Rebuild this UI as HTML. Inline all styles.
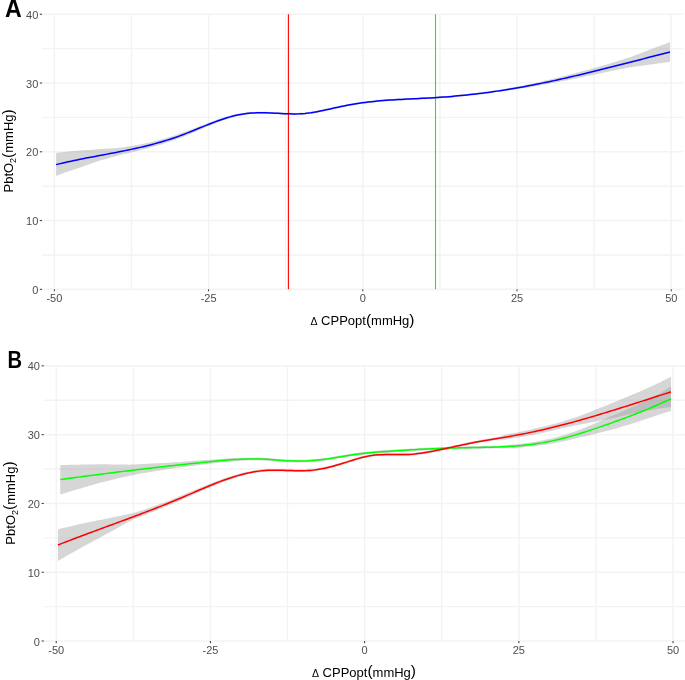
<!DOCTYPE html><html><head><meta charset="utf-8"><style>html,body{margin:0;padding:0;background:#fff;}svg{display:block;will-change:transform}text{font-family:"Liberation Sans",sans-serif}.tk{font-size:11px;fill:#4d4d4d}.ti{font-size:13px;fill:#000}.tx{font-size:13.3px}.lb{font-size:24px;font-weight:bold;fill:#000}</style></head><body>
<svg width="685" height="680" viewBox="0 0 685 680">
<line x1="131.48" y1="14.26" x2="131.48" y2="289.34" stroke="#f3f3f3" stroke-width="1.4"/>
<line x1="285.7" y1="14.26" x2="285.7" y2="289.34" stroke="#f3f3f3" stroke-width="1.4"/>
<line x1="439.92" y1="14.26" x2="439.92" y2="289.34" stroke="#f3f3f3" stroke-width="1.4"/>
<line x1="594.14" y1="14.26" x2="594.14" y2="289.34" stroke="#f3f3f3" stroke-width="1.4"/>
<line x1="42" y1="254.95" x2="683" y2="254.95" stroke="#f3f3f3" stroke-width="1.4"/>
<line x1="42" y1="186.18" x2="683" y2="186.18" stroke="#f3f3f3" stroke-width="1.4"/>
<line x1="42" y1="117.41" x2="683" y2="117.41" stroke="#f3f3f3" stroke-width="1.4"/>
<line x1="42" y1="48.64" x2="683" y2="48.64" stroke="#f3f3f3" stroke-width="1.4"/>
<line x1="54.37" y1="14.26" x2="54.37" y2="289.34" stroke="#f3f3f3" stroke-width="1.5"/>
<line x1="208.59" y1="14.26" x2="208.59" y2="289.34" stroke="#f3f3f3" stroke-width="1.5"/>
<line x1="362.81" y1="14.26" x2="362.81" y2="289.34" stroke="#f3f3f3" stroke-width="1.5"/>
<line x1="517.03" y1="14.26" x2="517.03" y2="289.34" stroke="#f3f3f3" stroke-width="1.5"/>
<line x1="671.25" y1="14.26" x2="671.25" y2="289.34" stroke="#f3f3f3" stroke-width="1.5"/>
<line x1="42" y1="289.34" x2="683" y2="289.34" stroke="#f3f3f3" stroke-width="1.5"/>
<line x1="42" y1="220.57" x2="683" y2="220.57" stroke="#f3f3f3" stroke-width="1.5"/>
<line x1="42" y1="151.8" x2="683" y2="151.8" stroke="#f3f3f3" stroke-width="1.5"/>
<line x1="42" y1="83.03" x2="683" y2="83.03" stroke="#f3f3f3" stroke-width="1.5"/>
<line x1="42" y1="14.26" x2="683" y2="14.26" stroke="#f3f3f3" stroke-width="1.5"/>
<polygon points="56.1,152.91 59.1,152.56 62.1,152.22 65.1,151.91 68.1,151.62 71.1,151.34 74.1,151.08 77.1,150.84 80,150.61 80.1,150.61 83.1,150.35 86.1,150.11 89.1,149.88 92.1,149.65 95.1,149.42 98.1,149.21 100,149.07 101.1,149 104.1,148.8 107.1,148.61 110.1,148.41 113.1,148.2 116.1,147.99 119.1,147.78 122,147.56 122.1,147.54 125.1,147.06 128.1,146.56 131.1,146.04 134.1,145.51 137.1,144.97 140.1,144.4 143.1,143.82 146.1,143.21 149.1,142.58 150,142.38 152.1,141.87 155.1,141.11 158.1,140.32 161.1,139.51 164.1,138.66 167.1,137.78 170.1,136.86 173.1,135.91 176.1,134.92 179.1,133.89 180,133.57 182.1,132.83 185.1,131.75 188.1,130.63 191.1,129.5 194.1,128.34 197.1,127.18 200.1,126.01 203.1,124.85 206.1,123.7 209.1,122.56 210,122.23 212.1,121.45 215.1,120.35 218.1,119.3 221.1,118.29 224.1,117.33 227.1,116.43 230.1,115.59 233.1,114.83 236.1,114.15 239.1,113.55 242.1,113.04 245.1,112.63 248.1,112.32 250,112.18 251.1,112.09 254.1,111.91 257.1,111.8 260.1,111.76 263.1,111.77 266.1,111.83 269.1,111.93 272.1,112.06 275.1,112.21 278.1,112.36 281.1,112.51 284.1,112.65 287.1,112.77 290.1,112.85 293.1,112.89 296.1,112.88 299.1,112.8 302.1,112.65 305.1,112.41 308.1,112.08 311.1,111.68 314.1,111.21 317.1,110.68 320.1,110.1 323.1,109.48 326.1,108.84 329.1,108.17 332.1,107.5 335.1,106.83 338.1,106.17 341.1,105.53 344.1,104.91 347.1,104.33 350.1,103.77 353.1,103.24 356.1,102.74 359.1,102.27 362.1,101.83 365.1,101.43 368.1,101.05 371.1,100.7 374.1,100.38 377.1,100.08 380.1,99.81 383.1,99.56 386.1,99.32 389.1,99.11 392.1,98.91 395.1,98.72 398.1,98.55 401.1,98.38 404.1,98.23 407.1,98.08 410.1,97.93 413.1,97.79 416.1,97.65 419.1,97.51 422.1,97.36 425.1,97.21 428.1,97.05 431.1,96.89 434.1,96.71 437.1,96.52 440.1,96.32 443.1,96.11 446.1,95.88 449.1,95.64 452.1,95.39 455.1,95.12 458.1,94.85 461.1,94.56 464.1,94.26 467.1,93.94 470.1,93.62 473.1,93.28 476.1,92.92 479.1,92.56 482.1,92.18 485.1,91.8 488.1,91.4 491.1,90.98 494.1,90.56 497.1,90.12 500,89.69 500.1,89.67 503.1,89.15 506.1,88.61 509.1,88.07 512.1,87.51 515.1,86.94 518.1,86.36 521.1,85.76 524.1,85.16 527.1,84.54 530,83.94 530.1,83.91 533.1,83.28 536.1,82.63 539.1,81.97 542.1,81.3 545.1,80.62 548.1,79.94 551.1,79.24 554.1,78.54 557.1,77.82 560,77.13 560.1,77.1 563.1,76.31 566.1,75.51 569.1,74.71 570,74.47 572.1,73.93 575.1,73.14 578.1,72.36 581.1,71.56 584.1,70.76 587.1,69.96 590.1,69.14 593.1,68.33 595,67.81 596.1,67.49 599.1,66.63 602.1,65.77 605.1,64.9 608.1,64.02 610,63.47 611.1,63.13 614.1,62.21 617.1,61.29 620.1,60.37 623.1,59.44 625,58.85 626.1,58.5 629.1,57.55 630,57.27 632.1,56.46 635.1,55.31 638.1,54.17 641.1,53.02 644.1,51.87 647.1,50.72 650,49.6 650.1,49.57 653.1,48.43 656.1,47.3 659.1,46.17 662.1,45.04 665.1,43.91 668.1,42.78 670,42.07 670,61.87 668.1,62.12 665.1,62.53 662.1,62.94 659.1,63.35 656.1,63.76 653.1,64.18 650.1,64.59 650,64.6 647.1,64.99 644.1,65.39 641.1,65.79 638.1,66.19 635.1,66.59 632.1,66.99 630,67.27 629.1,67.44 626.1,68.03 625,68.25 623.1,68.64 620.1,69.24 617.1,69.85 614.1,70.45 611.1,71.05 610,71.27 608.1,71.67 605.1,72.31 602.1,72.94 599.1,73.56 596.1,74.18 595,74.41 593.1,74.82 590.1,75.47 587.1,76.11 584.1,76.75 581.1,77.38 578.1,78.01 575.1,78.63 572.1,79.24 570,79.67 569.1,79.84 566.1,80.4 563.1,80.96 560.1,81.51 560,81.53 557.1,82.11 554.1,82.7 551.1,83.29 548.1,83.86 545.1,84.43 542.1,84.99 539.1,85.53 536.1,86.07 533.1,86.6 530.1,87.12 530,87.14 527.1,87.63 524.1,88.12 521.1,88.61 518.1,89.08 515.1,89.54 512.1,89.99 509.1,90.43 506.1,90.86 503.1,91.27 500.1,91.67 500,91.69 497.1,92.12 494.1,92.56 491.1,92.98 488.1,93.4 485.1,93.8 482.1,94.18 479.1,94.56 476.1,94.92 473.1,95.28 470.1,95.62 467.1,95.94 464.1,96.26 461.1,96.56 458.1,96.85 455.1,97.12 452.1,97.39 449.1,97.64 446.1,97.88 443.1,98.11 440.1,98.32 437.1,98.52 434.1,98.71 431.1,98.89 428.1,99.05 425.1,99.21 422.1,99.36 419.1,99.51 416.1,99.65 413.1,99.79 410.1,99.93 407.1,100.08 404.1,100.23 401.1,100.38 398.1,100.55 395.1,100.72 392.1,100.91 389.1,101.11 386.1,101.32 383.1,101.56 380.1,101.81 377.1,102.08 374.1,102.38 371.1,102.7 368.1,103.05 365.1,103.43 362.1,103.83 359.1,104.27 356.1,104.74 353.1,105.24 350.1,105.77 347.1,106.33 344.1,106.91 341.1,107.53 338.1,108.17 335.1,108.83 332.1,109.5 329.1,110.17 326.1,110.84 323.1,111.48 320.1,112.1 317.1,112.68 314.1,113.21 311.1,113.68 308.1,114.08 305.1,114.41 302.1,114.65 299.1,114.8 296.1,114.88 293.1,114.89 290.1,114.85 287.1,114.77 284.1,114.65 281.1,114.51 278.1,114.36 275.1,114.21 272.1,114.06 269.1,113.93 266.1,113.83 263.1,113.77 260.1,113.76 257.1,113.8 254.1,113.91 251.1,114.09 250,114.18 248.1,114.38 245.1,114.78 242.1,115.28 239.1,115.87 236.1,116.56 233.1,117.34 230.1,118.19 227.1,119.12 224.1,120.11 221.1,121.15 218.1,122.25 215.1,123.4 212.1,124.58 210,125.43 209.1,125.8 206.1,127.05 203.1,128.33 200.1,129.61 197.1,130.89 194.1,132.18 191.1,133.45 188.1,134.71 185.1,135.94 182.1,137.15 180,137.97 179.1,138.31 176.1,139.42 173.1,140.49 170.1,141.52 167.1,142.52 164.1,143.48 161.1,144.41 158.1,145.31 155.1,146.18 152.1,147.02 150,147.58 149.1,147.84 146.1,148.66 143.1,149.46 140.1,150.24 137.1,151 134.1,151.74 131.1,152.46 128.1,153.16 125.1,153.86 122.1,154.54 122,154.56 119.1,155.37 116.1,156.2 113.1,157.02 110.1,157.84 107.1,158.65 104.1,159.46 101.1,160.27 100,160.57 98.1,161.22 95.1,162.25 92.1,163.28 89.1,164.32 86.1,165.36 83.1,166.42 80.1,167.48 80,167.51 77.1,168.48 74.1,169.49 71.1,170.51 68.1,171.56 65.1,172.61 62.1,173.69 59.1,174.79 56.1,175.91" fill="#999" fill-opacity="0.4"/>
<line x1="288.4" y1="14.3" x2="288.4" y2="289.3" stroke="#ff0000" stroke-width="1.1"/>
<line x1="435.5" y1="14.3" x2="435.5" y2="289.3" stroke="#00ff00" stroke-width="1.1"/>
<polyline points="56.1,164.61 59.1,163.88 62.1,163.17 65.1,162.48 68.1,161.81 71.1,161.16 74.1,160.52 77.1,159.9 80.1,159.29 83.1,158.7 86.1,158.11 89.1,157.53 92.1,156.96 95.1,156.39 98.1,155.82 101.1,155.26 104.1,154.7 107.1,154.13 110.1,153.57 113.1,153 116.1,152.42 119.1,151.83 122.1,151.24 125.1,150.63 128.1,150.02 131.1,149.39 134.1,148.74 137.1,148.07 140.1,147.39 143.1,146.69 146.1,145.96 149.1,145.22 152.1,144.44 155.1,143.64 158.1,142.82 161.1,141.96 164.1,141.07 167.1,140.15 170.1,139.19 173.1,138.2 176.1,137.17 179.1,136.1 182.1,134.99 185.1,133.85 188.1,132.67 191.1,131.47 194.1,130.26 197.1,129.04 200.1,127.81 203.1,126.59 206.1,125.38 209.1,124.18 212.1,123.01 215.1,121.88 218.1,120.78 221.1,119.72 224.1,118.72 227.1,117.77 230.1,116.89 233.1,116.08 236.1,115.35 239.1,114.71 242.1,114.16 245.1,113.7 248.1,113.35 251.1,113.09 254.1,112.91 257.1,112.8 260.1,112.76 263.1,112.77 266.1,112.83 269.1,112.93 272.1,113.06 275.1,113.21 278.1,113.36 281.1,113.51 284.1,113.65 287.1,113.77 290.1,113.85 293.1,113.89 296.1,113.88 299.1,113.8 302.1,113.65 305.1,113.41 308.1,113.08 311.1,112.68 314.1,112.21 317.1,111.68 320.1,111.1 323.1,110.48 326.1,109.84 329.1,109.17 332.1,108.5 335.1,107.83 338.1,107.17 341.1,106.53 344.1,105.91 347.1,105.33 350.1,104.77 353.1,104.24 356.1,103.74 359.1,103.27 362.1,102.83 365.1,102.43 368.1,102.05 371.1,101.7 374.1,101.38 377.1,101.08 380.1,100.81 383.1,100.56 386.1,100.32 389.1,100.11 392.1,99.91 395.1,99.72 398.1,99.55 401.1,99.38 404.1,99.23 407.1,99.08 410.1,98.93 413.1,98.79 416.1,98.65 419.1,98.51 422.1,98.36 425.1,98.21 428.1,98.05 431.1,97.89 434.1,97.71 437.1,97.52 440.1,97.32 443.1,97.11 446.1,96.88 449.1,96.64 452.1,96.39 455.1,96.12 458.1,95.85 461.1,95.56 464.1,95.26 467.1,94.94 470.1,94.62 473.1,94.28 476.1,93.92 479.1,93.56 482.1,93.18 485.1,92.8 488.1,92.4 491.1,91.98 494.1,91.56 497.1,91.12 500.1,90.67 503.1,90.21 506.1,89.73 509.1,89.25 512.1,88.75 515.1,88.24 518.1,87.72 521.1,87.19 524.1,86.64 527.1,86.08 530.1,85.52 533.1,84.94 536.1,84.35 539.1,83.75 542.1,83.14 545.1,82.53 548.1,81.9 551.1,81.26 554.1,80.62 557.1,79.97 560.1,79.3 563.1,78.64 566.1,77.96 569.1,77.28 572.1,76.58 575.1,75.89 578.1,75.18 581.1,74.47 584.1,73.76 587.1,73.03 590.1,72.31 593.1,71.58 596.1,70.84 599.1,70.1 602.1,69.35 605.1,68.6 608.1,67.85 611.1,67.09 614.1,66.33 617.1,65.57 620.1,64.81 623.1,64.04 626.1,63.27 629.1,62.5 632.1,61.73 635.1,60.95 638.1,60.18 641.1,59.4 644.1,58.63 647.1,57.85 650.1,57.08 653.1,56.3 656.1,55.53 659.1,54.76 662.1,53.99 665.1,53.22 668.1,52.45 670,51.97" fill="none" stroke="#0000ff" stroke-width="1.5" stroke-linejoin="round"/>
<line x1="39.8" y1="289.34" x2="42" y2="289.34" stroke="#333" stroke-width="1"/>
<text x="38.3" y="293.84" text-anchor="end" class="tk">0</text>
<line x1="39.8" y1="220.57" x2="42" y2="220.57" stroke="#333" stroke-width="1"/>
<text x="38.3" y="225.07" text-anchor="end" class="tk">10</text>
<line x1="39.8" y1="151.8" x2="42" y2="151.8" stroke="#333" stroke-width="1"/>
<text x="38.3" y="156.3" text-anchor="end" class="tk">20</text>
<line x1="39.8" y1="83.03" x2="42" y2="83.03" stroke="#333" stroke-width="1"/>
<text x="38.3" y="87.53" text-anchor="end" class="tk">30</text>
<line x1="39.8" y1="14.26" x2="42" y2="14.26" stroke="#333" stroke-width="1"/>
<text x="38.3" y="18.76" text-anchor="end" class="tk">40</text>
<line x1="54.37" y1="289.34" x2="54.37" y2="291.3" stroke="#333" stroke-width="1"/>
<text x="54.37" y="302" text-anchor="middle" class="tk">-50</text>
<line x1="208.59" y1="289.34" x2="208.59" y2="291.3" stroke="#333" stroke-width="1"/>
<text x="208.59" y="302" text-anchor="middle" class="tk">-25</text>
<line x1="362.81" y1="289.34" x2="362.81" y2="291.3" stroke="#333" stroke-width="1"/>
<text x="362.81" y="302" text-anchor="middle" class="tk">0</text>
<line x1="517.03" y1="289.34" x2="517.03" y2="291.3" stroke="#333" stroke-width="1"/>
<text x="517.03" y="302" text-anchor="middle" class="tk">25</text>
<line x1="671.25" y1="289.34" x2="671.25" y2="291.3" stroke="#333" stroke-width="1"/>
<text x="671.25" y="302" text-anchor="middle" class="tk">50</text>
<line x1="133.32" y1="365.88" x2="133.32" y2="641" stroke="#f3f3f3" stroke-width="1.4"/>
<line x1="287.53" y1="365.88" x2="287.53" y2="641" stroke="#f3f3f3" stroke-width="1.4"/>
<line x1="441.75" y1="365.88" x2="441.75" y2="641" stroke="#f3f3f3" stroke-width="1.4"/>
<line x1="595.95" y1="365.88" x2="595.95" y2="641" stroke="#f3f3f3" stroke-width="1.4"/>
<line x1="44" y1="606.61" x2="685" y2="606.61" stroke="#f3f3f3" stroke-width="1.4"/>
<line x1="44" y1="537.83" x2="685" y2="537.83" stroke="#f3f3f3" stroke-width="1.4"/>
<line x1="44" y1="469.05" x2="685" y2="469.05" stroke="#f3f3f3" stroke-width="1.4"/>
<line x1="44" y1="400.27" x2="685" y2="400.27" stroke="#f3f3f3" stroke-width="1.4"/>
<line x1="56.22" y1="365.88" x2="56.22" y2="641" stroke="#f3f3f3" stroke-width="1.5"/>
<line x1="210.43" y1="365.88" x2="210.43" y2="641" stroke="#f3f3f3" stroke-width="1.5"/>
<line x1="364.64" y1="365.88" x2="364.64" y2="641" stroke="#f3f3f3" stroke-width="1.5"/>
<line x1="518.85" y1="365.88" x2="518.85" y2="641" stroke="#f3f3f3" stroke-width="1.5"/>
<line x1="673.06" y1="365.88" x2="673.06" y2="641" stroke="#f3f3f3" stroke-width="1.5"/>
<line x1="44" y1="641" x2="685" y2="641" stroke="#f3f3f3" stroke-width="1.5"/>
<line x1="44" y1="572.22" x2="685" y2="572.22" stroke="#f3f3f3" stroke-width="1.5"/>
<line x1="44" y1="503.44" x2="685" y2="503.44" stroke="#f3f3f3" stroke-width="1.5"/>
<line x1="44" y1="434.66" x2="685" y2="434.66" stroke="#f3f3f3" stroke-width="1.5"/>
<line x1="44" y1="365.88" x2="685" y2="365.88" stroke="#f3f3f3" stroke-width="1.5"/>
<polygon points="57.9,529.33 60.9,528.59 63.9,527.87 66.9,527.15 69.9,526.44 72.9,525.74 75.9,525.05 78.9,524.36 80,524.11 81.9,523.71 84.9,523.08 87.9,522.46 90.9,521.83 93.9,521.22 96.9,520.6 99.9,519.99 102.9,519.38 105.9,518.77 108.9,518.16 111.9,517.55 114.9,516.94 117.9,516.33 120.9,515.71 123.9,515.1 126.9,514.48 129.9,513.86 132.9,513.23 133,513.21 135.9,512.29 138.9,511.34 141.9,510.38 144.9,509.42 147.9,508.45 150,507.76 150.9,507.43 153.9,506.33 156.9,505.21 159.9,504.09 162.9,502.96 165.9,501.81 168.9,500.66 170,500.23 171.9,499.48 174.9,498.27 177.9,497.06 180.9,495.83 183.9,494.59 186.9,493.33 189.9,492.08 192.9,490.82 195.9,489.56 198.9,488.31 201.9,487.06 204.9,485.83 207.9,484.62 210,483.78 210.9,483.42 213.9,482.25 216.9,481.1 219.9,479.99 222.9,478.91 225.9,477.87 228.9,476.87 231.9,475.91 234.9,475.01 237.9,474.16 240.9,473.36 243.9,472.62 246.9,471.95 249.9,471.34 250,471.32 252.9,470.76 255.9,470.26 258.9,469.83 261.9,469.48 264.9,469.21 267.9,469.03 270.9,468.92 273.9,468.88 276.9,468.89 279.9,468.94 282.9,469.01 285.9,469.11 288.9,469.21 291.9,469.3 294.9,469.38 297.9,469.43 300.9,469.44 303.9,469.39 306.9,469.28 309.9,469.1 312.9,468.83 315.9,468.47 318.9,468.01 321.9,467.48 324.9,466.86 327.9,466.18 330.9,465.43 333.9,464.63 336.9,463.79 339.9,462.9 342.9,461.99 345.9,461.05 348.9,460.09 351.9,459.15 354.9,458.22 357.9,457.33 360.9,456.5 363.9,455.74 366.9,455.07 369.9,454.51 372.9,454.07 375.9,453.74 378.9,453.51 381.9,453.37 384.9,453.28 387.9,453.25 390.9,453.25 393.9,453.27 396.9,453.29 399.9,453.3 402.9,453.28 405.9,453.22 408.9,453.1 411.9,452.91 414.9,452.64 417.9,452.3 420.9,451.91 423.9,451.46 426.9,450.96 429.9,450.43 432.9,449.86 435.9,449.27 438.9,448.66 441.9,448.03 444.9,447.39 447.9,446.75 450.9,446.09 453.9,445.44 456.9,444.78 459.9,444.13 462.9,443.48 465.9,442.85 468.9,442.22 471.9,441.61 474.9,441.02 477.9,440.46 480.9,439.91 483.9,439.37 486.9,438.85 489.9,438.35 492.9,437.85 495.9,437.35 498.9,436.86 500,436.68 501.9,435.91 504.9,434.69 505,434.65 507.9,434.13 510.9,433.58 513.9,433.02 516.9,432.44 519.9,431.85 522.9,431.24 525.9,430.61 528.9,429.97 531.9,429.3 534.9,428.62 537.9,427.93 540.9,427.22 543.9,426.49 546.9,425.75 549.9,424.99 552.9,424.22 555.9,423.44 558.9,422.65 560,422.35 561.9,421.76 564.9,420.81 567.9,419.85 570.9,418.87 573.9,417.89 576.9,416.9 579.9,415.89 580,415.86 582.9,414.74 585.9,413.57 588.9,412.39 591.9,411.21 594.9,410.01 597.9,408.81 600.9,407.6 603.9,406.38 606.9,405.16 609.9,403.93 611,403.47 612.9,402.7 615.9,401.48 618.9,400.26 621.9,399.02 624.9,397.79 627.9,396.55 630.9,395.31 633.9,394.06 636.9,392.81 639.9,391.56 640,391.52 642.9,390.2 645.9,388.83 648.9,387.46 651.9,386.08 654.9,384.71 657.9,383.34 660,382.38 660.9,381.91 663.9,380.35 666.9,378.79 669.9,377.22 671,376.65 671,407.05 669.9,407.18 666.9,407.55 663.9,407.91 660.9,408.27 660,408.38 657.9,408.77 654.9,409.34 651.9,409.9 648.9,410.46 645.9,411.02 642.9,411.58 640,412.12 639.9,412.14 636.9,412.81 633.9,413.48 630.9,414.15 627.9,414.81 624.9,415.47 621.9,416.13 618.9,416.78 615.9,417.43 612.9,418.07 611,418.47 609.9,418.7 606.9,419.31 603.9,419.92 600.9,420.51 597.9,421.1 594.9,421.69 591.9,422.26 588.9,422.83 585.9,423.39 582.9,423.94 580,424.46 579.9,424.48 576.9,425.16 573.9,425.82 570.9,426.47 567.9,427.12 564.9,427.75 561.9,428.36 560,428.75 558.9,429.02 555.9,429.74 552.9,430.44 549.9,431.14 546.9,431.82 543.9,432.48 540.9,433.13 537.9,433.77 534.9,434.38 531.9,434.99 528.9,435.57 525.9,436.14 522.9,436.7 519.9,437.23 516.9,437.75 513.9,438.25 510.9,438.73 507.9,439.2 505,439.65 504.9,439.64 501.9,439.42 500,439.28 498.9,439.46 495.9,439.95 492.9,440.45 489.9,440.95 486.9,441.45 483.9,441.97 480.9,442.51 477.9,443.06 474.9,443.62 471.9,444.21 468.9,444.82 465.9,445.45 462.9,446.08 459.9,446.73 456.9,447.38 453.9,448.04 450.9,448.69 447.9,449.35 444.9,449.99 441.9,450.63 438.9,451.26 435.9,451.87 432.9,452.46 429.9,453.03 426.9,453.56 423.9,454.06 420.9,454.51 417.9,454.9 414.9,455.24 411.9,455.51 408.9,455.7 405.9,455.82 402.9,455.88 399.9,455.9 396.9,455.89 393.9,455.87 390.9,455.85 387.9,455.85 384.9,455.88 381.9,455.97 378.9,456.11 375.9,456.34 372.9,456.67 369.9,457.11 366.9,457.67 363.9,458.34 360.9,459.1 357.9,459.93 354.9,460.82 351.9,461.75 348.9,462.69 345.9,463.65 342.9,464.59 339.9,465.5 336.9,466.39 333.9,467.23 330.9,468.03 327.9,468.78 324.9,469.46 321.9,470.08 318.9,470.61 315.9,471.07 312.9,471.43 309.9,471.7 306.9,471.88 303.9,471.99 300.9,472.04 297.9,472.03 294.9,471.98 291.9,471.9 288.9,471.81 285.9,471.71 282.9,471.61 279.9,471.54 276.9,471.49 273.9,471.48 270.9,471.52 267.9,471.63 264.9,471.81 261.9,472.08 258.9,472.43 255.9,472.86 252.9,473.36 250,473.92 249.9,473.94 246.9,474.62 243.9,475.37 240.9,476.19 237.9,477.06 234.9,477.99 231.9,478.97 228.9,480 225.9,481.07 222.9,482.19 219.9,483.34 216.9,484.53 213.9,485.75 210.9,487 210,487.38 207.9,488.27 204.9,489.56 201.9,490.86 198.9,492.18 195.9,493.51 192.9,494.84 189.9,496.18 186.9,497.51 183.9,498.84 180.9,500.16 177.9,501.46 174.9,502.75 171.9,504.03 170,504.83 168.9,505.29 165.9,506.54 162.9,507.77 159.9,508.99 156.9,510.21 153.9,511.41 150.9,512.6 150,512.96 147.9,513.78 144.9,514.95 141.9,516.11 138.9,517.26 135.9,518.41 133,519.51 132.9,519.56 129.9,521.21 126.9,522.85 123.9,524.49 120.9,526.12 117.9,527.75 114.9,529.38 111.9,531.01 108.9,532.64 105.9,534.27 102.9,535.9 99.9,537.53 96.9,539.16 93.9,540.79 90.9,542.43 87.9,544.07 84.9,545.72 81.9,547.37 80,548.41 78.9,549.03 75.9,550.71 72.9,552.39 69.9,554.08 66.9,555.78 63.9,557.49 60.9,559.2 57.9,560.93" fill="#999" fill-opacity="0.4"/>
<polygon points="60.3,465.07 63.3,464.99 66.3,464.93 69.3,464.86 72.3,464.79 75.3,464.73 78.3,464.67 81.3,464.61 84.3,464.55 87.3,464.5 90.3,464.45 93.3,464.4 96.3,464.35 99.3,464.3 100,464.29 102.3,464.31 105.3,464.34 108.3,464.37 111.3,464.4 114.3,464.44 117.3,464.47 120.3,464.51 123.3,464.55 126.3,464.6 129.3,464.64 130,464.66 132.3,464.53 135.3,464.38 138.3,464.22 141.3,464.07 144.3,463.92 147.3,463.77 150.3,463.62 153.3,463.48 156.3,463.34 159.3,463.2 162.3,463.06 165.3,462.92 168.3,462.79 170,462.72 171.3,462.61 174.3,462.37 177.3,462.13 180.3,461.9 183.3,461.66 186.3,461.43 189.3,461.2 192.3,460.97 195.3,460.75 198.3,460.53 201.3,460.31 204.3,460.09 207.3,459.87 210,459.68 210.3,459.66 213.3,459.41 216.3,459.18 219.3,458.95 222.3,458.74 225.3,458.54 228.3,458.36 231.3,458.19 234.3,458.05 237.3,457.92 240.3,457.83 243.3,457.75 246.3,457.71 249.3,457.69 250,457.7 252.3,457.67 255.3,457.67 258.3,457.7 261.3,457.78 264.3,457.89 267.3,458.05 270.3,458.24 273.3,458.45 276.3,458.68 279.3,458.91 282.3,459.14 285.3,459.35 288.3,459.53 291.3,459.68 294.3,459.78 297.3,459.82 300.3,459.82 303.3,459.76 306.3,459.66 309.3,459.51 312.3,459.31 315.3,459.06 318.3,458.77 321.3,458.44 324.3,458.06 327.3,457.64 330.3,457.19 333.3,456.7 336.3,456.2 339.3,455.69 342.3,455.18 345.3,454.67 348.3,454.17 351.3,453.69 354.3,453.25 357.3,452.84 360.3,452.46 363.3,452.12 366.3,451.8 369.3,451.51 372.3,451.24 375.3,451 378.3,450.76 381.3,450.54 384.3,450.32 387.3,450.11 390.3,449.91 393.3,449.7 396.3,449.5 399.3,449.31 402.3,449.12 405.3,448.93 408.3,448.75 411.3,448.57 414.3,448.4 417.3,448.23 420.3,448.07 423.3,447.92 426.3,447.77 429.3,447.62 432.3,447.48 435.3,447.35 438.3,447.22 441.3,447.1 444.3,446.99 447.3,446.88 450.3,446.79 453.3,446.69 456.3,446.61 459.3,446.53 462.3,446.46 465.3,446.4 468.3,446.34 471.3,446.29 474.3,446.23 477.3,446.18 480.3,446.12 483.3,446.06 486.3,445.99 489.3,445.92 492.3,445.83 495.3,445.74 498.3,445.63 500,445.56 501.3,445.48 504.3,445.27 507.3,445.05 510.3,444.8 513.3,444.54 516.3,444.25 519.3,443.93 522.3,443.59 525.3,443.22 528.3,442.82 530,442.58 531.3,442.38 534.3,441.9 537.3,441.38 540.3,440.82 543.3,440.23 546.3,439.59 549.3,438.91 552.3,438.2 555.3,437.44 558.3,436.65 560,436.19 561.3,435.81 564.3,434.91 567.3,433.98 570.3,433.02 573.3,432.03 576.3,431.01 579.3,429.97 580,429.72 582.3,428.79 585.3,427.55 588.3,426.29 591.3,425.01 594.3,423.72 597.3,422.41 600.3,421.08 603.3,419.75 606.3,418.41 609.3,417.05 611,416.28 612.3,415.73 615.3,414.45 618.3,413.16 621.3,411.85 624.3,410.54 627.3,409.21 630.3,407.87 633.3,406.52 636.3,405.14 639.3,403.75 640,403.42 642.3,402.3 645.3,400.82 648.3,399.32 651.3,397.79 654.3,396.25 657.3,394.69 660,393.27 660.3,393.1 663.3,391.36 666.3,389.6 669.3,387.84 671,386.84 671,410.84 669.3,411.38 666.3,412.32 663.3,413.26 660.3,414.18 660,414.27 657.3,415.23 654.3,416.28 651.3,417.31 648.3,418.33 645.3,419.32 642.3,420.29 640,421.02 639.3,421.25 636.3,422.23 633.3,423.19 630.3,424.13 627.3,425.06 624.3,425.97 621.3,426.87 618.3,427.76 615.3,428.64 612.3,429.51 611,429.88 609.3,430.33 606.3,431.1 603.3,431.86 600.3,432.61 597.3,433.36 594.3,434.08 591.3,434.8 588.3,435.49 585.3,436.17 582.3,436.83 580,437.32 579.3,437.51 576.3,438.28 573.3,439.02 570.3,439.74 567.3,440.43 564.3,441.1 561.3,441.73 560,441.99 558.3,442.35 555.3,442.96 552.3,443.53 549.3,444.07 546.3,444.57 543.3,445.02 540.3,445.44 537.3,445.82 534.3,446.16 531.3,446.46 530,446.58 528.3,446.74 525.3,447 522.3,447.23 519.3,447.43 516.3,447.61 513.3,447.76 510.3,447.88 507.3,447.99 504.3,448.07 501.3,448.14 500,448.16 498.3,448.23 495.3,448.34 492.3,448.43 489.3,448.52 486.3,448.59 483.3,448.66 480.3,448.72 477.3,448.78 474.3,448.83 471.3,448.89 468.3,448.94 465.3,449 462.3,449.06 459.3,449.13 456.3,449.21 453.3,449.29 450.3,449.39 447.3,449.48 444.3,449.59 441.3,449.7 438.3,449.82 435.3,449.95 432.3,450.08 429.3,450.22 426.3,450.37 423.3,450.52 420.3,450.67 417.3,450.83 414.3,451 411.3,451.17 408.3,451.35 405.3,451.53 402.3,451.72 399.3,451.91 396.3,452.1 393.3,452.3 390.3,452.51 387.3,452.71 384.3,452.92 381.3,453.14 378.3,453.36 375.3,453.6 372.3,453.84 369.3,454.11 366.3,454.4 363.3,454.72 360.3,455.06 357.3,455.44 354.3,455.85 351.3,456.29 348.3,456.77 345.3,457.27 342.3,457.78 339.3,458.29 336.3,458.8 333.3,459.3 330.3,459.79 327.3,460.24 324.3,460.66 321.3,461.04 318.3,461.37 315.3,461.66 312.3,461.91 309.3,462.11 306.3,462.26 303.3,462.36 300.3,462.42 297.3,462.42 294.3,462.38 291.3,462.28 288.3,462.13 285.3,461.95 282.3,461.74 279.3,461.51 276.3,461.28 273.3,461.05 270.3,460.84 267.3,460.65 264.3,460.49 261.3,460.38 258.3,460.3 255.3,460.27 252.3,460.27 250,460.3 249.3,460.32 246.3,460.44 243.3,460.59 240.3,460.76 237.3,460.97 234.3,461.2 231.3,461.45 228.3,461.72 225.3,462.01 222.3,462.31 219.3,462.63 216.3,462.96 213.3,463.3 210.3,463.65 210,463.68 207.3,464.01 204.3,464.39 201.3,464.76 198.3,465.14 195.3,465.52 192.3,465.9 189.3,466.29 186.3,466.67 183.3,467.06 180.3,467.45 177.3,467.85 174.3,468.24 171.3,468.64 170,468.82 168.3,469.09 165.3,469.59 162.3,470.08 159.3,470.58 156.3,471.08 153.3,471.58 150.3,472.09 147.3,472.59 144.3,473.1 141.3,473.61 138.3,474.12 135.3,474.64 132.3,475.16 130,475.56 129.3,475.72 126.3,476.42 123.3,477.13 120.3,477.84 117.3,478.55 114.3,479.26 111.3,479.98 108.3,480.7 105.3,481.41 102.3,482.14 100,482.69 99.3,482.9 96.3,483.77 93.3,484.65 90.3,485.53 87.3,486.42 84.3,487.3 81.3,488.19 78.3,489.08 75.3,489.97 72.3,490.87 69.3,491.76 66.3,492.66 63.3,493.56 60.3,494.47" fill="#999" fill-opacity="0.4"/>
<polyline points="60.3,479.57 63.3,479.15 66.3,478.75 69.3,478.34 72.3,477.93 75.3,477.53 78.3,477.13 81.3,476.73 84.3,476.33 87.3,475.94 90.3,475.55 93.3,475.16 96.3,474.77 99.3,474.38 102.3,474 105.3,473.62 108.3,473.24 111.3,472.86 114.3,472.48 117.3,472.11 120.3,471.74 123.3,471.37 126.3,471 129.3,470.64 132.3,470.28 135.3,469.92 138.3,469.56 141.3,469.2 144.3,468.85 147.3,468.5 150.3,468.15 153.3,467.8 156.3,467.46 159.3,467.12 162.3,466.78 165.3,466.44 168.3,466.11 171.3,465.77 174.3,465.44 177.3,465.11 180.3,464.79 183.3,464.46 186.3,464.14 189.3,463.82 192.3,463.5 195.3,463.19 198.3,462.88 201.3,462.57 204.3,462.26 207.3,461.95 210.3,461.65 213.3,461.36 216.3,461.07 219.3,460.79 222.3,460.53 225.3,460.27 228.3,460.04 231.3,459.82 234.3,459.62 237.3,459.45 240.3,459.3 243.3,459.17 246.3,459.07 249.3,459 252.3,458.97 255.3,458.97 258.3,459 261.3,459.08 264.3,459.19 267.3,459.35 270.3,459.54 273.3,459.75 276.3,459.98 279.3,460.21 282.3,460.44 285.3,460.65 288.3,460.83 291.3,460.98 294.3,461.08 297.3,461.12 300.3,461.12 303.3,461.06 306.3,460.96 309.3,460.81 312.3,460.61 315.3,460.36 318.3,460.07 321.3,459.74 324.3,459.36 327.3,458.94 330.3,458.49 333.3,458 336.3,457.5 339.3,456.99 342.3,456.48 345.3,455.97 348.3,455.47 351.3,454.99 354.3,454.55 357.3,454.14 360.3,453.76 363.3,453.42 366.3,453.1 369.3,452.81 372.3,452.54 375.3,452.3 378.3,452.06 381.3,451.84 384.3,451.62 387.3,451.41 390.3,451.21 393.3,451 396.3,450.8 399.3,450.61 402.3,450.42 405.3,450.23 408.3,450.05 411.3,449.87 414.3,449.7 417.3,449.53 420.3,449.37 423.3,449.22 426.3,449.07 429.3,448.92 432.3,448.78 435.3,448.65 438.3,448.52 441.3,448.4 444.3,448.29 447.3,448.18 450.3,448.09 453.3,447.99 456.3,447.91 459.3,447.83 462.3,447.76 465.3,447.7 468.3,447.64 471.3,447.59 474.3,447.53 477.3,447.48 480.3,447.42 483.3,447.36 486.3,447.29 489.3,447.22 492.3,447.13 495.3,447.04 498.3,446.93 501.3,446.81 504.3,446.67 507.3,446.52 510.3,446.34 513.3,446.15 516.3,445.93 519.3,445.68 522.3,445.41 525.3,445.11 528.3,444.78 531.3,444.42 534.3,444.03 537.3,443.6 540.3,443.13 543.3,442.62 546.3,442.08 549.3,441.49 552.3,440.87 555.3,440.2 558.3,439.5 561.3,438.77 564.3,438 567.3,437.21 570.3,436.38 573.3,435.52 576.3,434.64 579.3,433.74 582.3,432.81 585.3,431.86 588.3,430.89 591.3,429.9 594.3,428.9 597.3,427.88 600.3,426.85 603.3,425.81 606.3,424.75 609.3,423.69 612.3,422.62 615.3,421.54 618.3,420.46 621.3,419.36 624.3,418.26 627.3,417.14 630.3,416 633.3,414.85 636.3,413.69 639.3,412.5 642.3,411.3 645.3,410.07 648.3,408.82 651.3,407.55 654.3,406.27 657.3,404.96 660.3,403.64 663.3,402.31 666.3,400.96 669.3,399.61 671,398.84" fill="none" stroke="#00ff00" stroke-width="1.5" stroke-linejoin="round"/>
<polyline points="57.9,545.03 60.9,543.85 63.9,542.67 66.9,541.51 69.9,540.35 72.9,539.2 75.9,538.06 78.9,536.93 81.9,535.8 84.9,534.68 87.9,533.56 90.9,532.44 93.9,531.33 96.9,530.23 99.9,529.12 102.9,528.02 105.9,526.91 108.9,525.81 111.9,524.71 114.9,523.61 117.9,522.5 120.9,521.4 123.9,520.29 126.9,519.18 129.9,518.07 132.9,516.95 135.9,515.82 138.9,514.7 141.9,513.56 144.9,512.42 147.9,511.27 150.9,510.11 153.9,508.95 156.9,507.78 159.9,506.59 162.9,505.4 165.9,504.19 168.9,502.98 171.9,501.75 174.9,500.51 177.9,499.26 180.9,497.99 183.9,496.71 186.9,495.42 189.9,494.13 192.9,492.83 195.9,491.54 198.9,490.24 201.9,488.96 204.9,487.69 207.9,486.44 210.9,485.21 213.9,484 216.9,482.82 219.9,481.67 222.9,480.55 225.9,479.47 228.9,478.43 231.9,477.44 234.9,476.5 237.9,475.61 240.9,474.77 243.9,474 246.9,473.29 249.9,472.64 252.9,472.06 255.9,471.56 258.9,471.13 261.9,470.78 264.9,470.51 267.9,470.33 270.9,470.22 273.9,470.18 276.9,470.19 279.9,470.24 282.9,470.31 285.9,470.41 288.9,470.51 291.9,470.6 294.9,470.68 297.9,470.73 300.9,470.74 303.9,470.69 306.9,470.58 309.9,470.4 312.9,470.13 315.9,469.77 318.9,469.31 321.9,468.78 324.9,468.16 327.9,467.48 330.9,466.73 333.9,465.93 336.9,465.09 339.9,464.2 342.9,463.29 345.9,462.35 348.9,461.39 351.9,460.45 354.9,459.52 357.9,458.63 360.9,457.8 363.9,457.04 366.9,456.37 369.9,455.81 372.9,455.37 375.9,455.04 378.9,454.81 381.9,454.67 384.9,454.58 387.9,454.55 390.9,454.55 393.9,454.57 396.9,454.59 399.9,454.6 402.9,454.58 405.9,454.52 408.9,454.4 411.9,454.21 414.9,453.94 417.9,453.6 420.9,453.21 423.9,452.76 426.9,452.26 429.9,451.73 432.9,451.16 435.9,450.57 438.9,449.96 441.9,449.33 444.9,448.69 447.9,448.05 450.9,447.39 453.9,446.74 456.9,446.08 459.9,445.43 462.9,444.78 465.9,444.15 468.9,443.52 471.9,442.91 474.9,442.32 477.9,441.76 480.9,441.21 483.9,440.67 486.9,440.15 489.9,439.65 492.9,439.15 495.9,438.65 498.9,438.16 501.9,437.67 504.9,437.17 507.9,436.67 510.9,436.16 513.9,435.63 516.9,435.09 519.9,434.54 522.9,433.97 525.9,433.38 528.9,432.77 531.9,432.14 534.9,431.5 537.9,430.85 540.9,430.17 543.9,429.49 546.9,428.78 549.9,428.07 552.9,427.33 555.9,426.59 558.9,425.83 561.9,425.06 564.9,424.28 567.9,423.48 570.9,422.67 573.9,421.86 576.9,421.03 579.9,420.19 582.9,419.34 585.9,418.48 588.9,417.61 591.9,416.73 594.9,415.85 597.9,414.96 600.9,414.06 603.9,413.15 606.9,412.23 609.9,411.31 612.9,410.39 615.9,409.45 618.9,408.52 621.9,407.58 624.9,406.63 627.9,405.68 630.9,404.73 633.9,403.77 636.9,402.81 639.9,401.85 642.9,400.89 645.9,399.92 648.9,398.96 651.9,397.99 654.9,397.02 657.9,396.06 660.9,395.09 663.9,394.13 666.9,393.17 669.9,392.2 671,391.85" fill="none" stroke="#ff0000" stroke-width="1.5" stroke-linejoin="round"/>
<line x1="41.6" y1="641" x2="43.8" y2="641" stroke="#333" stroke-width="1"/>
<text x="39.9" y="645.5" text-anchor="end" class="tk">0</text>
<line x1="41.6" y1="572.22" x2="43.8" y2="572.22" stroke="#333" stroke-width="1"/>
<text x="39.9" y="576.72" text-anchor="end" class="tk">10</text>
<line x1="41.6" y1="503.44" x2="43.8" y2="503.44" stroke="#333" stroke-width="1"/>
<text x="39.9" y="507.94" text-anchor="end" class="tk">20</text>
<line x1="41.6" y1="434.66" x2="43.8" y2="434.66" stroke="#333" stroke-width="1"/>
<text x="39.9" y="439.16" text-anchor="end" class="tk">30</text>
<line x1="41.6" y1="365.88" x2="43.8" y2="365.88" stroke="#333" stroke-width="1"/>
<text x="39.9" y="370.38" text-anchor="end" class="tk">40</text>
<line x1="56.22" y1="641" x2="56.22" y2="643.2" stroke="#333" stroke-width="1"/>
<text x="56.22" y="654" text-anchor="middle" class="tk">-50</text>
<line x1="210.43" y1="641" x2="210.43" y2="643.2" stroke="#333" stroke-width="1"/>
<text x="210.43" y="654" text-anchor="middle" class="tk">-25</text>
<line x1="364.64" y1="641" x2="364.64" y2="643.2" stroke="#333" stroke-width="1"/>
<text x="364.64" y="654" text-anchor="middle" class="tk">0</text>
<line x1="518.85" y1="641" x2="518.85" y2="643.2" stroke="#333" stroke-width="1"/>
<text x="518.85" y="654" text-anchor="middle" class="tk">25</text>
<line x1="673.06" y1="641" x2="673.06" y2="643.2" stroke="#333" stroke-width="1"/>
<text x="673.06" y="654" text-anchor="middle" class="tk">50</text>
<text x="362.5" y="325" class="ti" text-anchor="middle"><tspan font-size="10.5">&#916;</tspan> CPPopt<tspan font-size="15.5" font-weight="300" dy="-0.3">(</tspan><tspan dy="0.3">mmHg</tspan><tspan font-size="15.5" font-weight="300" dy="-0.3">)</tspan></text>
<text x="364" y="676.7" class="ti" text-anchor="middle"><tspan font-size="10.5">&#916;</tspan> CPPopt<tspan font-size="15.5" font-weight="300" dy="-0.3">(</tspan><tspan dy="0.3">mmHg</tspan><tspan font-size="15.5" font-weight="300" dy="-0.3">)</tspan></text>
<text transform="translate(13.1,150.9) rotate(-90)" class="ti" text-anchor="middle">PbtO<tspan font-size="9" dy="3">2</tspan><tspan font-size="15.5" dy="-3.3">(</tspan><tspan dy="0.3">mmHg</tspan><tspan font-size="15.5" dy="-0.3">)</tspan></text>
<text transform="translate(14.7,503) rotate(-90)" class="ti" text-anchor="middle">PbtO<tspan font-size="9" dy="3">2</tspan><tspan font-size="15.5" dy="-3.3">(</tspan><tspan dy="0.3">mmHg</tspan><tspan font-size="15.5" dy="-0.3">)</tspan></text>
<text x="0" y="0" class="lb" transform="translate(5.0,17.3) scale(0.965,1.04)">A</text>
<text x="0" y="0" class="lb" transform="translate(7.6,367.7) scale(0.84,1.03)">B</text>
</svg></body></html>
